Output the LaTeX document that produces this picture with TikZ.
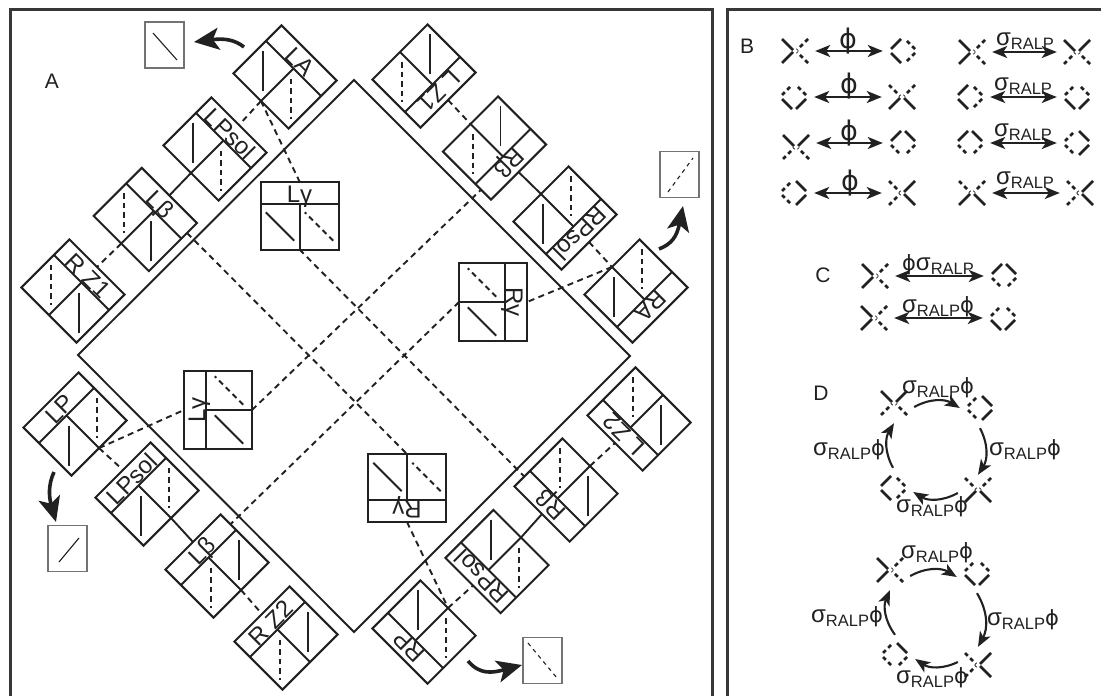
\documentclass[tikz,border=0pt]{standalone}
\usepackage{fontspec}
\setmainfont{Liberation Sans}
\newfontfamily\symf{DejaVu Sans}
\usetikzlibrary{arrows.meta}
\definecolor{ink}{gray}{0.13}
\tikzset{
  x=1pt,y=1pt,
  framed/.style={line width=3pt,draw=ink!90!white},
  big/.style={line width=1.9pt,draw=ink},
  boxline/.style={line width=2pt,draw=ink},
  cs/.style={line width=1.9pt,draw=ink},
  cd/.style={line width=1.9pt,draw=ink,dash pattern=on 5.5pt off 4pt},
  link/.style={line width=1.9pt,draw=ink},
  dlink/.style={line width=1.9pt,draw=ink,dash pattern=on 6pt off 4.5pt},
  boxlabel/.style={inner sep=0pt,anchor=base,font=\fontsize{24}{24}\selectfont,text=ink},
  inset/.style={draw=black!55,line width=1.2pt,minimum width=39pt,minimum height=46pt,inner sep=0pt},
  inl/.style={line width=1.1pt,draw=ink},
  indl/.style={line width=1.1pt,draw=ink,dash pattern=on 4pt off 4pt},
  curvy/.style={line width=3.6pt,draw=ink,-{Stealth[length=25pt,width=22pt,inset=6pt]}},
  sa/.style={line width=2.8pt,draw=ink},
  da/.style={line width=2.8pt,draw=ink,dash pattern=on 4pt off 3.4pt},
  iconn/.style={minimum size=40pt,inner sep=0pt},
  dbl/.style={line width=2.1pt,draw=ink,{Stealth[length=15pt,width=12pt,inset=4pt]}-{Stealth[length=15pt,width=12pt,inset=4pt]}},
  cyc/.style={line width=2.1pt,draw=ink,-{Stealth[length=15pt,width=12pt,inset=4pt]}},
  plabel/.style={inner sep=0pt,font=\fontsize{21}{21}\selectfont,text=ink},
  rel/.style={inner sep=0pt,text=ink},
}
\newcommand{\sr}{{\fontsize{24}{24}\selectfont σ}\raisebox{-4pt}{\fontsize{16.5}{16.5}\selectfont RALP}}
\newcommand{\ph}{{\symf\fontsize{21}{21}\selectfont ϕ}}
\newcommand{\phb}{{\symf\fontsize{27}{27}\selectfont ϕ}}
% id, cx, cy, rot, label, left style, right style, absolute line angle
\newcommand{\cellbox}[8]{%
\begin{scope}[shift={(#2,-#3)},rotate=#4]
  \draw[boxline] (-39,-34) rectangle (39,34);
  \draw[boxline] (-39,12)--(39,12);
  \draw[boxline] (0,12)--(0,-34);
  \coordinate (#1-t) at (0,34);
  \coordinate (#1-b) at (0,-34);
  \coordinate (#1-e) at (39,20);
  \node[boxlabel,rotate=#4] (#1-label) at (0,13) {#5};
  \pgfmathsetmacro\lineang{#8-#4}
  \draw[#6] (-19.5,-11) ++(\lineang:20) -- ++({\lineang+180}:40);
  \draw[#7] (19.5,-11) ++(\lineang:20) -- ++({\lineang+180}:40);
\end{scope}}
% id, cx, cy, TL, TR, BL, BR
\newcommand{\xicon}[7]{%
  \node[iconn] (#1) at (#2,-#3) {};
  \draw[#4] (#2-13,-#3+12) -- (#2-2,-#3+1);
  \draw[#5] (#2+13,-#3+12) -- (#2+2,-#3+1);
  \draw[#6] (#2-13,-#3-12) -- (#2-2,-#3-1);
  \draw[#7] (#2+13,-#3-12) -- (#2+2,-#3-1);}
\newcommand{\dicon}[7]{%
  \node[iconn] (#1) at (#2,-#3) {};
  \draw[#4] (#2-12,-#3+2) -- (#2-2,-#3+12);
  \draw[#5] (#2+12,-#3+2) -- (#2+2,-#3+12);
  \draw[#6] (#2-12,-#3-2) -- (#2-2,-#3-12);
  \draw[#7] (#2+12,-#3-2) -- (#2+2,-#3-12);}
\begin{document}
\begin{tikzpicture}
\useasboundingbox (0,0) rectangle (1101,-696);
\fill[white] (0,0) rectangle (1101,-696);
% frames
\draw[framed] (10,-696) -- (10,-9) -- (712.5,-9) -- (712.5,-696);
\draw[framed] (727,-696) -- (727,-9) -- (1101,-9);
% large square
\draw[big] (354,-80) -- (630,-356) -- (354,-632) -- (78,-355) -- cycle;
% cells
\cellbox{la}{285}{77}{-45}{LA}{cs}{cd}{90}
\cellbox{lpa}{215}{149}{-45}{LPsol}{cs}{cd}{90}
\cellbox{lba}{145.3}{219.5}{-45}{Lβ}{cd}{cs}{90}
\cellbox{rza}{73}{291}{-45}{R Z1}{cd}{cs}{90}
\cellbox{lza}{424}{76}{-135}{L Z1}{cs}{cd}{90}
\cellbox{rba}{494.5}{148}{-135}{Rβ}{cs}{cd}{90}
\cellbox{rpa}{565}{218}{-135}{RPsol}{cd}{cs}{90}
\cellbox{ra}{636}{291}{-135}{RA}{cd}{cs}{90}
\cellbox{lp}{75}{424}{45}{LP}{cs}{cd}{90}
\cellbox{lpb}{147}{494}{45}{LPsol}{cs}{cd}{90}
\cellbox{lbb}{217}{566}{45}{Lβ}{cd}{cs}{90}
\cellbox{rzb}{286}{638}{45}{R Z2}{cd}{cs}{90}
\cellbox{rp}{424}{632}{135}{RP}{cd}{cs}{90}
\cellbox{rpb}{497}{561.5}{135}{RPsol}{cd}{cs}{90}
\cellbox{rbb}{566}{490}{135}{Rβ}{cs}{cd}{90}
\cellbox{lzb}{639}{419}{135}{L Z2}{cs}{cd}{90}
\cellbox{gt}{299.5}{215.5}{0}{Lγ}{cs}{cd}{-45}
\cellbox{gr}{493}{302}{-90}{Rγ}{cd}{cs}{-45}
\cellbox{gl}{218}{410}{90}{Lγ}{cs}{cd}{-45}
\cellbox{gb}{407}{488}{180}{Rγ}{cd}{cs}{-45}
% links along the rows
\draw[dlink] (la-b) -- (lpa-t);
\draw[link] (lpa-b) -- (lba-t);
\draw[dlink] (lba-b) -- (rza-t);
\draw[dlink] (lza-t) -- (rba-b);
\draw[link] (rba-t) -- (rpa-b);
\draw[dlink] (rpa-t) -- (ra-b);
\draw[dlink] (lp-b) -- (lpb-t);
\draw[link] (lpb-b) -- (lbb-t);
\draw[dlink] (lbb-b) -- (rzb-t);
\draw[dlink] (rp-b) -- (rpb-t);
\draw[link] (rpb-b) -- (rbb-t);
\draw[dlink] (rbb-b) -- (lzb-t);
% links to the central cells
\draw[dlink] (la-b) -- (gt-t);
\draw[dlink] (gt-b) -- (rbb-e);
\draw[dlink] (lba-e) -- (gb-b);
\draw[dlink] (gb-t) -- (rp-b);
\draw[dlink] (ra-b) -- (gr-t);
\draw[dlink] (gr-b) -- (lbb-e);
\draw[dlink] (lp-b) -- (gl-t);
\draw[dlink] (gl-b) -- (rba-e);
% insets
\node[inset] (ia) at (164.5,-45) {};
\draw[inl] (153,-33) -- (177,-60);
\node[inset] (ib) at (679.5,-174.5) {};
\draw[indl] (668,-192) -- (693,-158);
\node[inset] (ic) at (67.5,-548.5) {};
\draw[inl] (59,-562) -- (79,-538);
\node[inset] (id) at (542.5,-660.5) {};
\draw[indl] (528,-643) -- (557,-678);
% curved arrows
\coordinate (aa) at (244,-47);
\coordinate (ab) at (659,-249);
\coordinate (ac) at (54,-472);
\coordinate (ad) at (468,-661);
\draw[curvy] (aa) .. controls (235,-40) and (225,-38) .. (194,-42);
\draw[curvy] (ab) .. controls (672,-244) and (677,-236) .. (683,-206);
\draw[curvy] (ac) .. controls (48,-485) and (49,-497) .. (56,-522);
\draw[curvy] (ad) .. controls (480,-675) and (492,-673) .. (522,-665);
% panel letters
\node[plabel] (pa) at (52,-81) {A};
\node[plabel] (pb) at (747,-46) {B};
\node[plabel] (pc) at (823,-275) {C};
\node[plabel] (pd) at (821,-393) {D};
% panel B
\xicon{b1a}{795}{51}{sa}{da}{sa}{da}
\dicon{b1b}{903}{51}{sa}{da}{sa}{da}
\draw[dbl] (b1a.east) -- (b1b.west);
\node[rel] (b1l) at (848,-41) {\phb};
\xicon{b1c}{972}{52}{sa}{da}{sa}{da}
\xicon{b1d}{1077}{52}{sa}{sa}{da}{da}
\draw[dbl] (b1c.east) -- (b1d.west);
\node[rel] (b1m) at (1025,-41) {\sr};
\dicon{b2a}{794}{97}{da}{da}{sa}{sa}
\xicon{b2b}{902}{97}{da}{da}{sa}{sa}
\draw[dbl] (b2a.east) -- (b2b.west);
\node[rel] (b2l) at (849,-86) {\phb};
\dicon{b2c}{970}{97}{sa}{da}{sa}{da}
\dicon{b2d}{1077}{97}{da}{da}{sa}{sa}
\draw[dbl] (b2c.east) -- (b2d.west);
\node[rel] (b2m) at (1023,-86) {\sr};
\xicon{b3a}{796}{147}{sa}{sa}{da}{da}
\dicon{b3b}{903}{143}{sa}{sa}{da}{da}
\draw[dbl] (b3b.west -| b3a.east) -- (b3b.west);
\node[rel] (b3l) at (849,-133) {\phb};
\dicon{b3c}{970}{143}{sa}{sa}{da}{da}
\dicon{b3d}{1077}{143}{da}{sa}{da}{sa}
\draw[dbl] (b3c.east) -- (b3d.west);
\node[rel] (b3m) at (1023,-132) {\sr};
\dicon{b4a}{794}{193}{da}{sa}{da}{sa}
\xicon{b4b}{902}{193}{da}{sa}{da}{sa}
\draw[dbl] (b4a.east) -- (b4b.west);
\node[rel] (b4l) at (850,-183) {\phb};
\xicon{b4c}{972}{193}{da}{da}{sa}{sa}
\xicon{b4d}{1080}{193}{da}{sa}{da}{sa}
\draw[dbl] (b4c.east) -- (b4d.west);
\node[rel] (b4m) at (1025,-180) {\sr};
% panel C
\xicon{c1a}{875}{276}{sa}{da}{sa}{da}
\dicon{c1b}{1004}{276}{sa}{sa}{da}{da}
\draw[dbl] (c1a.east) -- (c1b.west);
\node[rel] (c1l) at (938,-265) {\ph\sr};
\xicon{c2a}{874}{318}{sa}{da}{sa}{da}
\dicon{c2b}{1003}{318}{da}{da}{sa}{sa}
\draw[dbl] (c2a.east) -- (c2b.west);
\node[rel] (c2l) at (938,-307) {\sr\ph};
% panel D, upper cycle
\xicon{d1a}{894}{403}{sa}{sa}{da}{da}
\dicon{d1b}{980}{408}{da}{sa}{da}{sa}
\xicon{d1c}{978}{490}{da}{da}{sa}{sa}
\dicon{d1d}{893}{488}{sa}{da}{sa}{da}
\draw[cyc] ([yshift=-4pt]d1a.east) to[bend left=30] (d1b.west);
\draw[cyc] (d1b.south) to[bend left=30] ([yshift=-5pt]d1c.north);
\draw[cyc] ([yshift=-3pt]d1c.west) to[bend left=30] ([yshift=-4pt]d1d.east);
\draw[cyc] (d1d.north) to[bend left=30] (d1a.south);
\node[rel] (d1t) at (938,-388) {\sr\ph};
\node[rel] (d1r) at (1025,-450) {\sr\ph};
\node[rel] (d1o) at (932,-507) {\sr\ph};
\node[rel] (d1l) at (849,-450) {\sr\ph};
% panel D, lower cycle
\xicon{d2a}{890}{570}{sa}{da}{sa}{da}
\dicon{d2b}{977}{573}{da}{da}{sa}{sa}
\xicon{d2c}{978}{665}{da}{sa}{da}{sa}
\dicon{d2d}{895}{655}{da}{sa}{da}{da}
\draw[cyc] ([yshift=-6pt]d2a.east) to[bend left=30] ([yshift=-4pt]d2b.west);
\draw[cyc] (d2b.south) to[bend left=30] ([yshift=-2pt]d2c.north);
\draw[cyc] ([yshift=3pt]d2c.west) to[bend left=30] ([yshift=-4pt]d2d.east);
\draw[cyc] (d2d.north) to[bend left=30] (d2a.south);
\node[rel] (d2t) at (937,-553) {\sr\ph};
\node[rel] (d2r) at (1023,-620) {\sr\ph};
\node[rel] (d2o) at (932,-678) {\sr\ph};
\node[rel] (d2l) at (847,-617) {\sr\ph};
\end{tikzpicture}
\end{document}
